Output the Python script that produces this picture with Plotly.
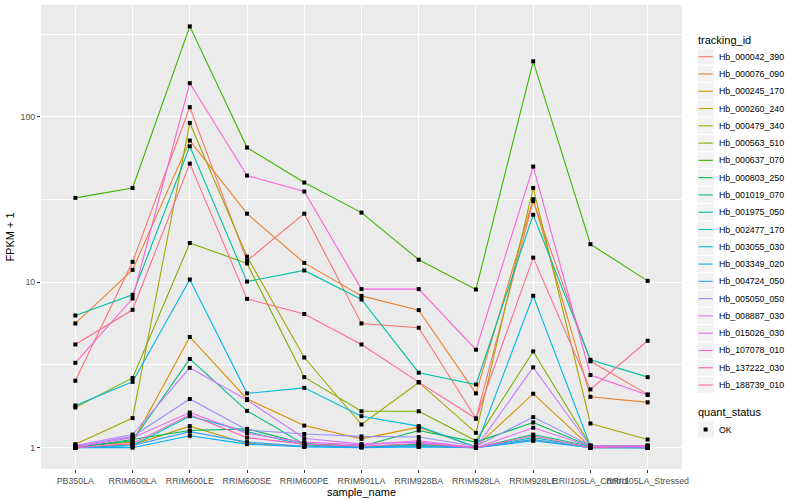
import plotly.graph_objects as go

# ---------------- data ----------------
samples = ["PB350LA", "RRIM600LA", "RRIM600LE", "RRIM600SE", "RRIM600PE", "RRIM901LA",
           "RRIM928BA", "RRIM928LA", "RRIM928LE", "RRII105LA_Control", "RRII105LA_Stressed"]

tracking_ids = ["Hb_000042_390", "Hb_000076_090", "Hb_000245_170", "Hb_000260_240",
                "Hb_000479_340", "Hb_000563_510", "Hb_000637_070", "Hb_000803_250",
                "Hb_001019_070", "Hb_001975_050", "Hb_002477_170", "Hb_003055_030",
                "Hb_003349_020", "Hb_004724_050", "Hb_005050_050", "Hb_008887_030",
                "Hb_015026_030", "Hb_107078_010", "Hb_137222_030", "Hb_188739_010"]

hb_000042_390 = [2.54, 13.3, 114.5, 13.5, 26.0, 5.64, 5.31, 1.50, 31.0, 3.33, 2.10]
hb_000076_090 = [5.64, 11.9, 72.0, 26.0, 13.1, 8.28, 6.79, 2.13, 31.8, 2.03, 1.88]
hb_000245_170 = [1.02, 1.08, 4.67, 1.97, 1.36, 1.13, 1.33, 1.01, 2.12, 1.01, 1.00]
hb_000260_240 = [1.01, 1.04, 1.35, 1.06, 1.02, 1.01, 1.03, 1.00, 1.12, 1.00, 1.00]
hb_000479_340 = [1.05, 1.51, 92.0, 14.3, 3.51, 1.38, 2.48, 1.23, 37.2, 1.40, 1.12]
hb_000563_510 = [1.75, 2.64, 17.3, 13.0, 2.67, 1.66, 1.66, 1.10, 3.82, 1.03, 1.01]
hb_000637_070 = [32.4, 37.2, 353.0, 65.3, 40.1, 26.4, 13.7, 9.05, 217.0, 17.0, 10.2]
hb_000803_250 = [1.00, 1.12, 1.27, 1.30, 1.06, 1.02, 1.27, 1.08, 1.42, 1.02, 1.03]
hb_001019_070 = [1.01, 1.10, 3.44, 1.67, 1.05, 1.01, 1.05, 1.00, 1.20, 1.02, 1.02]
hb_001975_050 = [6.30, 8.40, 66.5, 10.1, 11.8, 7.87, 2.84, 2.41, 25.6, 3.40, 2.67]
hb_002477_170 = [1.00, 1.03, 1.55, 1.25, 1.04, 1.01, 1.03, 1.00, 1.15, 1.01, 1.00]
hb_003055_030 = [1.80, 2.50, 10.4, 2.13, 2.30, 1.55, 1.35, 1.01, 8.29, 1.02, 1.00]
hb_003349_020 = [1.00, 1.00, 1.18, 1.05, 1.01, 1.00, 1.01, 1.00, 1.10, 1.00, 1.00]
hb_004724_050 = [1.00, 1.03, 1.25, 1.08, 1.02, 1.01, 1.02, 1.00, 1.12, 1.00, 1.00]
hb_005050_050 = [1.02, 1.17, 1.97, 1.28, 1.21, 1.17, 1.16, 1.02, 1.53, 1.03, 1.01]
hb_008887_030 = [1.03, 1.20, 3.04, 1.94, 1.14, 1.05, 1.08, 1.00, 3.06, 1.02, 1.01]
hb_015026_030 = [1.01, 1.15, 1.63, 1.22, 1.08, 1.04, 1.10, 1.00, 1.32, 1.02, 1.03]
hb_107078_010 = [3.26, 7.98, 160.0, 44.2, 35.4, 9.10, 9.10, 3.91, 50.1, 2.75, 2.08]
hb_137222_030 = [1.00, 1.06, 1.58, 1.15, 1.05, 1.02, 1.06, 1.00, 1.18, 1.00, 1.02]
hb_188739_010 = [4.21, 6.82, 52.2, 7.94, 6.43, 4.21, 2.49, 1.50, 14.1, 2.25, 4.43]

quant_status = ["OK"]

y_ticks = [1, 10, 100]
y_tick_labels = ["1", "10", "100"]
y_minor = [10 ** 0.5, 10 ** 1.5, 10 ** 2.5]

# ---------------- styles ----------------
colors = ["#F8766D", "#EA8331", "#D89000", "#C09B00", "#A3A500", "#7CAE00", "#39B600",
          "#00BB4E", "#00BF7D", "#00C1A3", "#00BFC4", "#00BAE0", "#00B0F6", "#35A2FF",
          "#9590FF", "#C77CFF", "#E76BF3", "#FA62DB", "#FF62BC", "#FF6C91"]

series = [hb_000042_390, hb_000076_090, hb_000245_170, hb_000260_240, hb_000479_340,
          hb_000563_510, hb_000637_070, hb_000803_250, hb_001019_070, hb_001975_050,
          hb_002477_170, hb_003055_030, hb_003349_020, hb_004724_050, hb_005050_050,
          hb_008887_030, hb_015026_030, hb_107078_010, hb_137222_030, hb_188739_010]

FONT = "Liberation Sans, Arial, Helvetica, sans-serif"
W, H = 800, 500
ML, MR, MT, MB = 41, 118, 5, 31
PW, PH = W - ML - MR, H - MT - MB


def px(x):
    return (x - ML) / PW


def py(y):
    return (H - MB - y) / PH


fig = go.Figure()

for name, vals, col in zip(tracking_ids, series, colors):
    fig.add_trace(go.Scatter(x=samples, y=vals, mode="lines", name=name,
                             line=dict(color=col, width=1.1), showlegend=False,
                             hoverinfo="x+y+name"))
for name, vals in zip(tracking_ids, series):
    fig.add_trace(go.Scatter(x=samples, y=vals, mode="markers", name=name,
                             marker=dict(color="black", symbol="square", size=4,
                                         line=dict(width=0)),
                             showlegend=False, hoverinfo="skip"))

# ---------------- manual ggplot-style legend ----------------
shapes = []
annotations = []
annotations.append(dict(text="tracking_id", x=px(696), y=py(40), xref="paper", yref="paper",
                        xanchor="left", yanchor="middle", showarrow=False,
                        font=dict(family=FONT, size=11, color="black")))
KEY = 17.28
y0 = 56.7
for i, (name, col) in enumerate(zip(tracking_ids, colors)):
    yc = y0 + KEY * i
    shapes.append(dict(type="rect", xref="paper", yref="paper",
                       x0=px(697), x1=px(697 + KEY), y0=py(yc - KEY / 2), y1=py(yc + KEY / 2),
                       fillcolor="#F2F2F2", line=dict(color="white", width=1), layer="above"))
    shapes.append(dict(type="line", xref="paper", yref="paper",
                       x0=px(698.5), x1=px(697 + KEY - 1.5), y0=py(yc), y1=py(yc),
                       line=dict(color=col, width=1.1), layer="above"))
    annotations.append(dict(text=name, x=px(717), y=py(yc), xref="paper", yref="paper",
                            xanchor="left", yanchor="middle", showarrow=False,
                            font=dict(family=FONT, size=8.8, color="black")))

annotations.append(dict(text="quant_status", x=px(696), y=py(412), xref="paper", yref="paper",
                        xanchor="left", yanchor="middle", showarrow=False,
                        font=dict(family=FONT, size=11, color="black")))
yc = 429.5
shapes.append(dict(type="rect", xref="paper", yref="paper",
                   x0=px(697), x1=px(697 + KEY), y0=py(yc - KEY / 2), y1=py(yc + KEY / 2),
                   fillcolor="#F2F2F2", line=dict(color="white", width=1), layer="above"))
shapes.append(dict(type="rect", xref="paper", yref="paper",
                   x0=px(697 + KEY / 2 - 2), x1=px(697 + KEY / 2 + 2),
                   y0=py(yc - 2), y1=py(yc + 2),
                   fillcolor="black", line=dict(width=0), layer="above"))
annotations.append(dict(text=quant_status[0], x=px(717), y=py(yc), xref="paper", yref="paper",
                        xanchor="left", yanchor="middle", showarrow=False,
                        font=dict(family=FONT, size=8.8, color="black")))

fig.update_layout(
    width=W, height=H,
    margin=dict(l=ML, r=MR, t=MT, b=MB, pad=0),
    paper_bgcolor="white",
    plot_bgcolor="#EBEBEB",
    font=dict(family=FONT, size=9, color="#4D4D4D"),
    showlegend=False,
    shapes=shapes,
    annotations=annotations,
    xaxis=dict(
        type="category", categoryorder="array", categoryarray=samples,
        range=[-0.6, len(samples) - 0.4],
        showgrid=True, gridcolor="white", gridwidth=1.1, zeroline=False,
        ticks="outside", ticklen=3, tickcolor="#333333", tickwidth=1,
        tickangle=0, tickfont=dict(family=FONT, size=8.8, color="#4D4D4D"),
        showline=False, automargin=False,
        title=dict(text="sample_name", standoff=3,
                   font=dict(family=FONT, size=11, color="black")),
    ),
    yaxis=dict(
        type="log", range=[-0.129, 2.677],
        tickmode="array", tickvals=y_ticks, ticktext=y_tick_labels,
        showgrid=True, gridcolor="white", gridwidth=1.1, zeroline=False,
        ticks="outside", ticklen=3, tickcolor="#333333", tickwidth=1,
        tickfont=dict(family=FONT, size=8.8, color="#4D4D4D"),
        minor=dict(tickmode="array", tickvals=y_minor, showgrid=True,
                   gridcolor="white", gridwidth=0.55, ticks=""),
        showline=False, automargin=False,
        title=dict(text="FPKM + 1", standoff=3,
                   font=dict(family=FONT, size=11, color="black")),
    ),
)

fig.write_html("out.html",
               config={"displayModeBar": False},
               post_script="document.body.style.margin='0';document.body.style.overflow='hidden';")
